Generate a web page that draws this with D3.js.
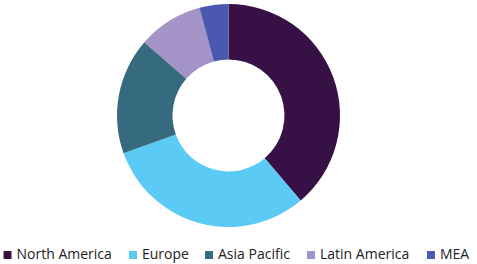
<!DOCTYPE html>
<html><head><meta charset="utf-8">
<script src="https://cdn.jsdelivr.net/npm/d3@7"></script>
<style>html,body{margin:0;padding:0;background:#fff;}svg{display:block;}</style>
</head><body>
<svg id="c" width="477" height="264"></svg>
<script>
const categories = ["North America", "Europe", "Asia Pacific", "Latin America", "MEA"];
const values = [38.8, 30.7, 16.9, 9.4, 4.2];
const colors = ["#371046", "#5bcbf5", "#366a7e", "#a493c6", "#4a58b0"];
const legendX = [3.5, 129, 205, 307, 427];

const svg = d3.select("#c");
const cx = 228.5, cy = 115.5, rO = 111.5, rI = 56;
const pie = d3.pie().sort(null).value(d => d)(values);
const arc = d3.arc().innerRadius(rI).outerRadius(rO);
svg.append("g").attr("transform", `translate(${cx},${cy})`)
  .selectAll("path").data(pie).join("path")
  .attr("d", arc).attr("fill", (d, i) => colors[i]);

const lg = svg.append("g");
const items = lg.selectAll("g").data(categories).join("g")
  .attr("transform", (d, i) => `translate(${legendX[i]},251)`);
items.append("rect").attr("width", 8).attr("height", 8).attr("fill", (d, i) => colors[i]);
items.append("text").attr("x", 13).attr("y", 8.2)
  .attr("font-family", "Open Sans, sans-serif").attr("font-size", 14)
  .attr("fill", "#222").text(d => d);
</script>
</body></html>
